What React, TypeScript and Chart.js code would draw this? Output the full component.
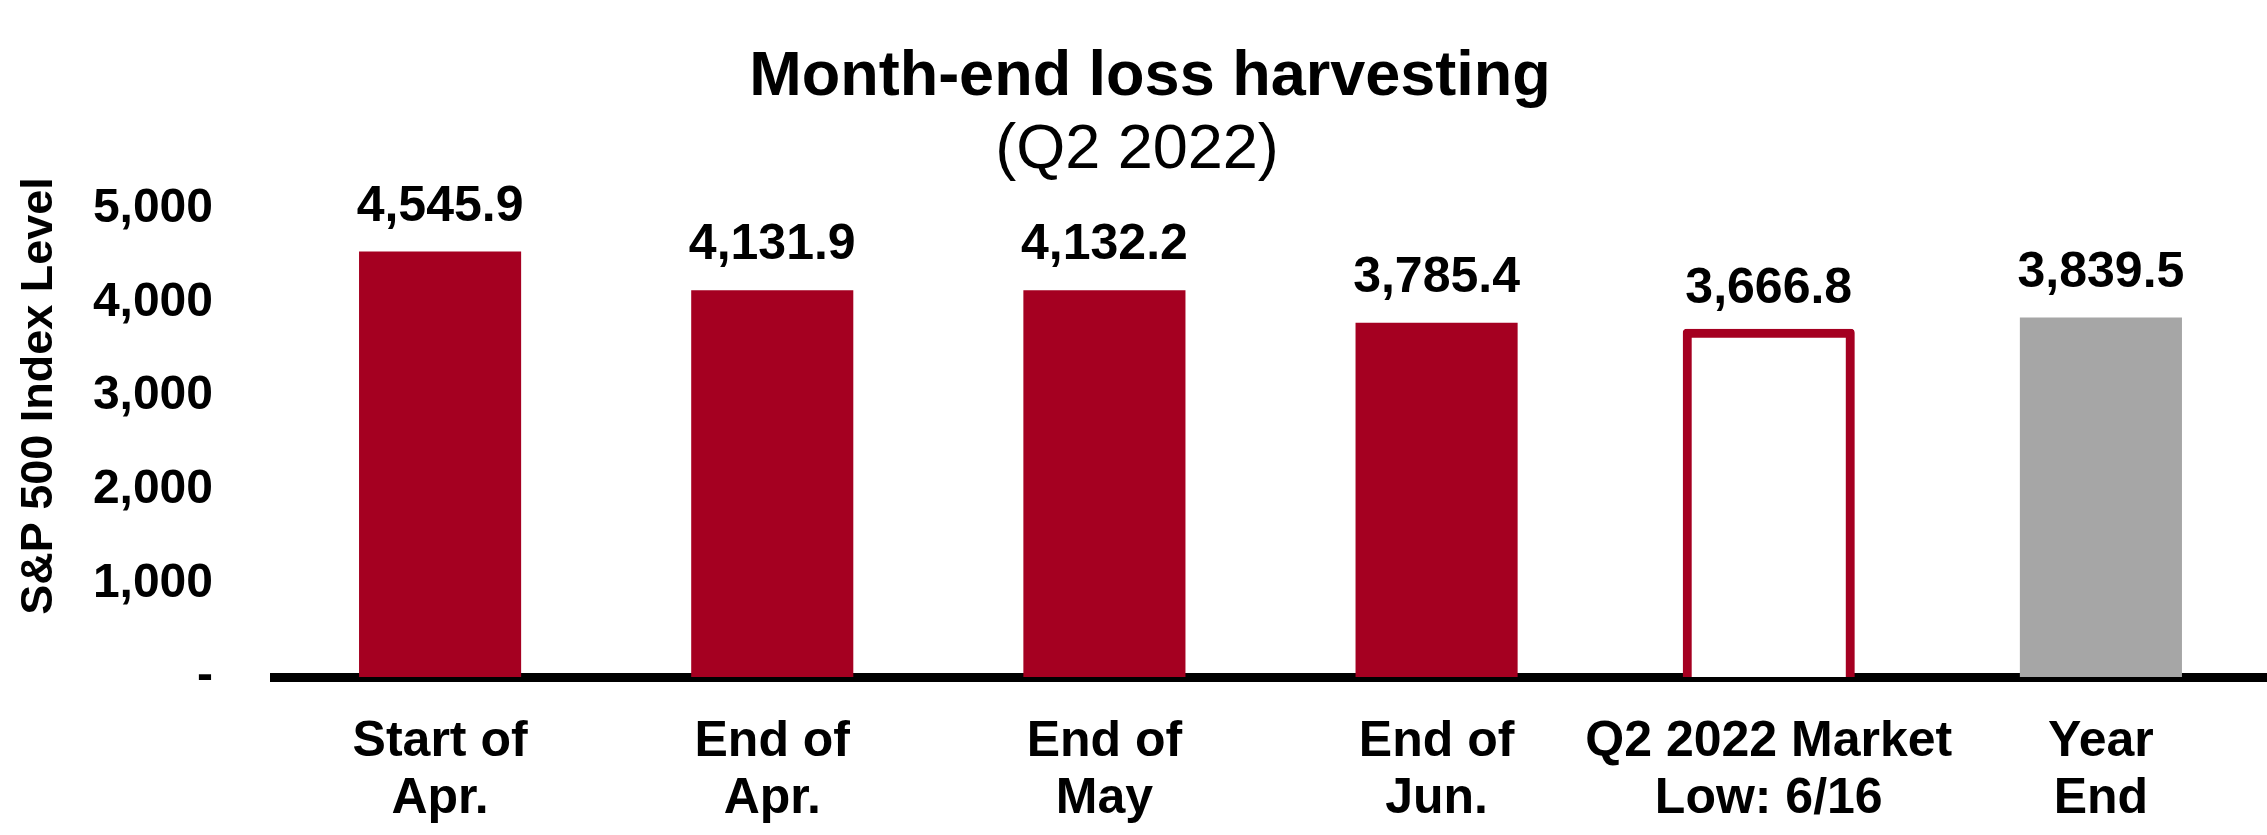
import { useRef, useEffect } from "react";
import { Chart, registerables } from "chart.js";

Chart.register(...registerables);

// Chart data
const categories: string[][] = [
  ["Start of", "Apr."],
  ["End of", "Apr."],
  ["End of", "May"],
  ["End of", "Jun."],
  ["Q2 2022 Market", "Low: 6/16"],
  ["Year", "End"],
];
const indexLevels: number[] = [4545.9, 4131.9, 4132.2, 3785.4, 3666.8, 3839.5];
const yTicks: number[] = [0, 1000, 2000, 3000, 4000, 5000];

const titleText = "Month-end loss harvesting";
const subtitleText = "(Q2 2022)";
const yAxisTitle = "S&P 500 Index Level";

const RED = "#A50021";
const GRAY = "#A6A6A6";
const FONT = "'Liberation Sans', Arial, Helvetica, sans-serif";

const barFill = [RED, RED, RED, RED, "#FFFFFF", GRAY];
const barBorder = ["rgba(0,0,0,0)", "rgba(0,0,0,0)", "rgba(0,0,0,0)", "rgba(0,0,0,0)", RED, "rgba(0,0,0,0)"];
const barBorderWidth = [0, 0, 0, 0, 9, 0];
const barInflate = [0, 0, 0, 0, 5, 0];

const fmt = (v: number) =>
  v.toLocaleString("en-US", { minimumFractionDigits: 1, maximumFractionDigits: 1 });

// Value labels above bars
const valueLabels = {
  id: "valueLabels",
  afterDatasetsDraw(chart: Chart) {
    const ctx = chart.ctx;
    const meta = chart.getDatasetMeta(0);
    ctx.save();
    ctx.font = `bold 50px ${FONT}`;
    ctx.fillStyle = "#000";
    ctx.textAlign = "center";
    ctx.textBaseline = "alphabetic";
    meta.data.forEach((bar: any, i: number) => {
      ctx.fillText(fmt(indexLevels[i]), bar.x, bar.y - 31);
    });
    ctx.restore();
  },
};

// Titles and rotated y axis title
const titles = {
  id: "titles",
  afterDraw(chart: Chart) {
    const ctx = chart.ctx;
    ctx.save();
    ctx.fillStyle = "#000";
    ctx.textAlign = "center";
    ctx.textBaseline = "alphabetic";
    ctx.font = `bold 63px ${FONT}`;
    ctx.fillText(titleText, 1150, 95);
    ctx.font = `63px ${FONT}`;
    ctx.fillText(subtitleText, 1137, 168);

    ctx.translate(40, 396);
    ctx.rotate(-Math.PI / 2);
    ctx.font = `bold 45px ${FONT}`;
    ctx.textBaseline = "middle";
    ctx.fillText(yAxisTitle, 0, 0);
    ctx.restore();
  },
};

const App = () => {
  const chartRef = useRef<HTMLCanvasElement | null>(null);
  const chartInstance = useRef<Chart | null>(null);

  useEffect(() => {
    if (!chartRef.current) return;
    const ctx = chartRef.current.getContext("2d");
    if (!ctx) return;

    if (chartInstance.current) {
      chartInstance.current.destroy();
    }

    chartInstance.current = new Chart(ctx, {
      type: "bar",
      data: {
        labels: categories,
        datasets: [
          {
            label: "S&P 500",
            data: indexLevels,
            backgroundColor: barFill,
            borderColor: barBorder,
            borderWidth: barBorderWidth,
            borderRadius: [0, 0, 0, 0, 4, 0],
            inflateAmount: barInflate,
            borderSkipped: "start",
            categoryPercentage: 1,
            barPercentage: 0.488,
          } as any,
        ],
      },
      options: {
        animation: false,
        responsive: true,
        maintainAspectRatio: false,
        layout: {
          padding: { top: 209, left: 0, right: 0, bottom: 0 },
        },
        plugins: {
          legend: { display: false },
          tooltip: { enabled: false },
          title: { display: false },
        },
        scales: {
          x: {
            z: 1,
            grid: { display: false, drawTicks: false },
            border: { display: true, color: "#000", width: 9 },
            ticks: {
              color: "#000",
              font: { family: FONT, size: 50, weight: "bold", lineHeight: 1.14 },
              padding: 37,
              maxRotation: 0,
              autoSkip: false,
            },
            afterFit: (scale: any) => {
              scale.height = 158;
            },
          },
          y: {
            min: 0,
            max: 5000,
            afterBuildTicks: (scale: any) => {
              scale.ticks = yTicks.map((v) => ({ value: v }));
            },
            grid: { display: false, drawTicks: false },
            border: { display: false },
            ticks: {
              color: "#000",
              font: { family: FONT, size: 48, weight: "bold" },
              padding: 61,
              callback: (value: any) =>
                Number(value) === 0 ? "-" : Number(value).toLocaleString("en-US"),
            },
            afterFit: (scale: any) => {
              scale.width = 274;
            },
          },
        },
      },
      plugins: [valueLabels, titles],
    });

    return () => {
      if (chartInstance.current) {
        chartInstance.current.destroy();
        chartInstance.current = null;
      }
    };
  }, []);

  return (
    <div
      style={{
        position: "fixed",
        left: 0,
        top: 0,
        width: 2267,
        height: 835,
        background: "#fff",
      }}
    >
      <canvas ref={chartRef} />
    </div>
  );
};

export default App;
